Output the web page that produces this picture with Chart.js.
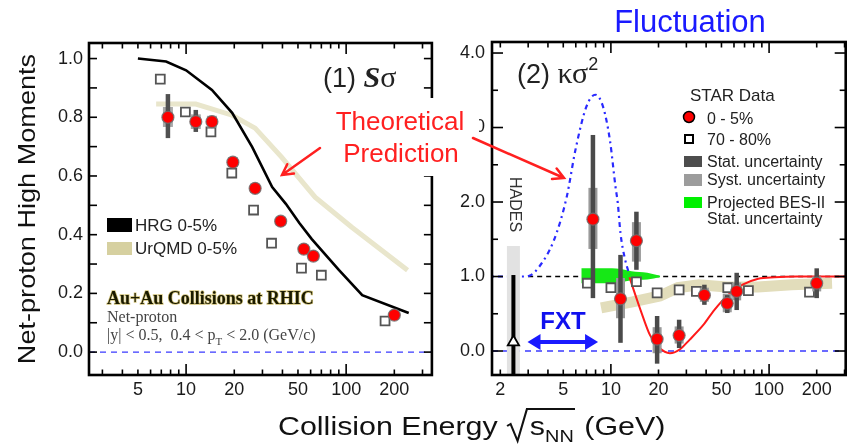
<!DOCTYPE html>
<html><head><meta charset="utf-8">
<script src="https://cdn.jsdelivr.net/npm/chart.js@4.4.0/dist/chart.umd.min.js"></script>
<style>
html,body{margin:0;padding:0;background:#fff;}
#wrap{position:relative;width:854px;height:447px;overflow:hidden;background:#fff;}
canvas{position:absolute;top:0;}
#c1{left:0;width:440px;height:447px;}
#c2{left:440px;width:414px;height:447px;}
#ov{position:absolute;left:0;top:0;}
</style></head><body>
<div id="wrap">
<canvas id="c1" width="440" height="447"></canvas>
<canvas id="c2" width="414" height="447"></canvas>
<svg id="ov" width="854" height="447" xmlns="http://www.w3.org/2000/svg" font-family="Liberation Sans, Arial, sans-serif">
  <!-- axis titles -->
  <text transform="translate(35,209) rotate(-90) scale(1.13,1)" text-anchor="middle" font-size="24" fill="#111">Net-proton High Moments</text>
  <g id="xt" transform="translate(278,435) scale(1.17,1)" fill="#111"></g>
  <text x="690" y="32" font-size="31" fill="#1a1aff" text-anchor="middle">Fluctuation</text>
  <!-- panel labels -->
  <text x="323" y="87" font-size="27" fill="#222">(1) <tspan font-family="Liberation Serif" font-style="italic" font-weight="bold" font-size="30">S</tspan><tspan font-family="Liberation Serif" font-size="30">σ</tspan></text>
  <text x="517" y="83" font-size="27" fill="#222">(2) <tspan font-family="Liberation Serif" font-size="30">κσ</tspan><tspan font-size="18" dy="-13">2</tspan></text>
  <!-- left legend -->
  <rect x="107" y="218" width="25" height="14" fill="#000"/>
  <text x="135" y="231" font-size="17" fill="#222">HRG 0-5%</text>
  <rect x="107" y="242" width="25" height="13" fill="#d6d0a0"/>
  <text x="135" y="254" font-size="17" fill="#222">UrQMD 0-5%</text>
  <text x="107" y="304" font-size="18" font-weight="bold" font-family="Liberation Serif" fill="#1a1a00" stroke="#d2c37a" stroke-width="1.4" paint-order="stroke">Au+Au Collisions at RHIC</text>
  <text x="107" y="322" font-size="16" font-family="Liberation Serif" fill="#444">Net-proton</text>
  <text x="107" y="340" font-size="16" font-family="Liberation Serif" fill="#444" xml:space="preserve">|y| &lt; 0.5,  0.4 &lt; p<tspan font-size="11" dy="5">T</tspan><tspan dy="-5"> &lt; 2.0 (GeV/c)</tspan></text>
  <!-- right legend -->
  <text x="690" y="101" font-size="17" fill="#222">STAR Data</text>
  <circle cx="689" cy="117" r="5.5" fill="#ff0000" stroke="#000" stroke-width="1.5"/>
  <text x="707" y="124" font-size="16" fill="#222">0 - 5%</text>
  <rect x="685" y="135" width="8" height="8" fill="#fff" stroke="#000" stroke-width="2"/>
  <text x="707" y="145" font-size="16" fill="#222">70 - 80%</text>
  <rect x="684" y="156" width="18" height="11" fill="#4d4d4d"/>
  <text x="707" y="167" font-size="16" fill="#222">Stat. uncertainty</text>
  <rect x="684" y="174" width="18" height="12" fill="#9c9c9c"/>
  <text x="707" y="185" font-size="16" fill="#222">Syst. uncertainty</text>
  <rect x="684" y="197" width="18" height="11" fill="#00f000"/>
  <text x="707" y="208" font-size="16" fill="#222">Projected BES-II</text>
  <text x="707" y="224" font-size="16" fill="#222">Stat. uncertainty</text>
  <!-- HADES / FXT -->
  <text transform="translate(510,177) rotate(90)" font-size="16" fill="#333">HADES</text>
  <text x="563" y="329" font-size="24" font-weight="bold" fill="#1010ee" text-anchor="middle">FXT</text>
  <!-- theoretical prediction -->
  <rect x="325" y="98" width="154" height="78" fill="#fff"/>
  <text x="400" y="130" font-size="26" fill="#ff2020" text-anchor="middle">Theoretical</text>
  <text x="401" y="162" font-size="26" fill="#ff2020" text-anchor="middle">Prediction</text>
  <g id="arrows" stroke="#ff2020" stroke-width="2.5" fill="none" stroke-linecap="round"></g>
</svg>
</div>
<script>
// ================= DATA =================
// Panel (1): S*sigma, net-proton, Au+Au
const energies = [7.7, 11.5, 14.5, 19.6, 27, 39, 54.4, 62.4, 200];
const ssig_0_5 = [0.800, 0.785, 0.785, 0.647, 0.558, 0.446, 0.351, 0.327, 0.126];
const ssig_statLo = [0.729, 0.750, 0.767, 0.634, 0.547, 0.436, 0.341, 0.317, 0.118];
const ssig_statHi = [0.879, 0.825, 0.805, 0.660, 0.569, 0.456, 0.361, 0.337, 0.134];
const ssig_systLo = [0.767, 0.760, 0.765, 0.630, 0.542, 0.431, 0.336, 0.312, 0.114];
const ssig_systHi = [0.835, 0.810, 0.805, 0.664, 0.574, 0.461, 0.366, 0.342, 0.138];
const ssig_70_80_energy = [6.9, 9.9, 14.3, 19.3, 26.4, 34.2, 52.6, 70, 175];
const ssig_70_80 = [0.930, 0.818, 0.750, 0.610, 0.484, 0.371, 0.286, 0.262, 0.106];
const hrg_energy = [5, 7.5, 10, 14.5, 19.4, 25.9, 34.5, 42, 51, 61, 90, 126, 246];
const hrg_ssig = [1.0, 0.99, 0.96, 0.893, 0.815, 0.698, 0.562, 0.505, 0.44, 0.385, 0.28, 0.194, 0.133];
const urqmd_energy = [6.5, 11.5, 19.4, 27, 39.5, 64, 108, 242];
const urqmd_ssig = [0.845, 0.845, 0.807, 0.763, 0.664, 0.528, 0.426, 0.279];

// Panel (2): kappa*sigma^2
const kap_0_5 = [1.77, 0.70, 1.48, 0.16, 0.21, 0.75, 0.64, 0.80, 0.91];
const kap_statLo = [0.71, 0.11, 1.09, -0.17, 0.04, 0.62, 0.51, 0.55, 0.71];
const kap_statHi = [2.90, 1.29, 1.87, 0.47, 0.42, 0.89, 0.75, 1.05, 1.11];
const kap_systLo = [1.37, 0.44, 1.20, -0.03, 0.10, 0.66, 0.52, 0.68, 0.80];
const kap_systHi = [2.19, 0.98, 1.73, 0.32, 0.33, 0.85, 0.77, 0.92, 1.00];
const kap_70_80_energy = [7.1, 10, 14.5, 19.6, 27, 34.7, 54.8, 74, 180];
const kap_70_80 = [0.91, 0.85, 0.93, 0.78, 0.82, 0.80, 0.85, 0.81, 0.79];
const hades_energy = [2.42];
const hades_kap = [0.12];
const hades_statLo = [-0.6], hades_statHi = [1.02];
const hades_systLo = [-0.6], hades_systHi = [1.41];
const model_energy = [1.77, 2.76, 3.05, 3.52, 4.37, 5.26, 5.97, 7.0, 7.96, 8.92, 9.86, 10.7, 11.05, 11.5, 12.2, 13.1];
const model_kap = [1.0, 1.0, 1.01, 1.13, 1.49, 2.07, 2.70, 3.28, 3.44, 3.28, 2.83, 2.20, 1.99, 1.58, 1.26, 1.02];
const fit_energy = [13.1, 15.4, 17.7, 20.1, 23.6, 27.2, 31.4, 38.4, 45, 54.8, 68, 85.4, 108, 150, 305];
const fit_kap = [0.99, 0.55, 0.21, 0.05, -0.03, 0.02, 0.15, 0.35, 0.55, 0.75, 0.89, 0.97, 0.99, 1.0, 1.0];
const urqmd_kap_energy = [8.67, 13.7, 20.4, 26.5, 36, 54, 85, 139, 250];
const urqmd_kap = [0.58, 0.66, 0.74, 0.85, 0.89, 0.86, 0.86, 0.89, 0.91];
const bes2_energy = [6.5, 9, 11.5, 13.5, 17, 20.5];
const bes2_hi = [1.11, 1.11, 1.10, 1.07, 1.05, 1.01];
const bes2_lo = [0.91, 0.91, 0.92, 0.95, 0.96, 0.99];
const unity_energy = [3.0, 305];
const unity_val = [1, 1];

// axis ranges and tick labels
const xRange1 = [2.474, 343.4], yRange1 = [-0.078, 1.053];
const xRange2 = [1.772, 305], yRange2 = [-0.322, 4.148];
const xTicks1 = [5, 10, 20, 50, 100, 200];
const xTicks2 = [2, 5, 10, 20, 50, 100, 200];
const yTicks1 = [0, 0.2, 0.4, 0.6, 0.8, 1.0];
const yTicks2 = [0, 1, 2, 3, 4];

// ================= HELPERS =================
const FONT = 'Liberation Sans';
function pts(xs, ys) { return xs.map((x, i) => ({x, y: ys[i]})); }

function framePlugin(o) {
  return {
    id: 'frame',
    afterDatasetsDraw(chart) {
      const {ctx, chartArea: a, scales: {x, y}} = chart;
      ctx.save();
      ctx.strokeStyle = '#000';
      ctx.lineWidth = 1.6;
      const ln = (x0, y0, x1, y1) => { ctx.beginPath(); ctx.moveTo(x0, y0); ctx.lineTo(x1, y1); ctx.stroke(); };
      for (let d = Math.floor(Math.log10(x.min)); d <= Math.ceil(Math.log10(x.max)); d++) {
        for (let m = 1; m <= 9; m++) {
          const v = m * Math.pow(10, d);
          if (v < x.min || v > x.max) continue;
          const px = x.getPixelForValue(v);
          const len = m === 1 ? o.xMajor : o.xMinor;
          ln(px, a.bottom, px, a.bottom - len);
          ln(px, a.top, px, a.top + len);
        }
      }
      const n = Math.round((o.yEnd - o.yStart) / o.yStep);
      for (let i = 0; i <= n; i++) {
        const v = o.yStart + i * o.yStep;
        const py = y.getPixelForValue(v);
        const major = Math.abs(v / o.yMajorStep - Math.round(v / o.yMajorStep)) < 1e-6;
        const len = major ? o.yMajor : o.yMinor;
        ln(a.left, py, a.left + len, py);
        ln(a.right, py, a.right - len, py);
      }
      ctx.lineWidth = 2.6;
      ctx.strokeRect(a.left, a.top, a.right - a.left, a.bottom - a.top);
      if (o.fxt) {
        const f = o.fxt;
        const x0 = x.getPixelForValue(f.x0), x1 = x.getPixelForValue(f.x1), py = y.getPixelForValue(f.y);
        ctx.strokeStyle = f.color; ctx.fillStyle = f.color; ctx.lineWidth = 4;
        ln(x0 + 10, py, x1 - 10, py);
        ctx.beginPath(); ctx.moveTo(x0, py); ctx.lineTo(x0 + 13, py - 8); ctx.lineTo(x0 + 13, py + 8); ctx.closePath(); ctx.fill();
        ctx.beginPath(); ctx.moveTo(x1, py); ctx.lineTo(x1 - 13, py - 8); ctx.lineTo(x1 - 13, py + 8); ctx.closePath(); ctx.fill();
      }
      ctx.restore();
    }
  };
}

// byIndex: {datasetIndex: [error-bar sets]} drawn just before that dataset
function errPlugin(byIndex) {
  return {
    id: 'errbars',
    beforeDatasetDraw(chart, args) {
      const sets = byIndex[args.index];
      if (!sets) return;
      const {ctx, chartArea: a, scales: {x, y}} = chart;
      ctx.save();
      ctx.beginPath(); ctx.rect(a.left, a.top, a.right - a.left, a.bottom - a.top); ctx.clip();
      for (const s of sets) {
        s.x.forEach((xv, i) => {
          const px = x.getPixelForValue(xv);
          if (s.systLo) {
            const t = y.getPixelForValue(s.systHi[i]), b = y.getPixelForValue(s.systLo[i]);
            ctx.fillStyle = s.systColor; ctx.fillRect(px - s.systW / 2, t, s.systW, b - t);
          }
          if (s.statLo) {
            const t = y.getPixelForValue(s.statHi[i]), b = y.getPixelForValue(s.statLo[i]);
            ctx.fillStyle = s.statColor; ctx.fillRect(px - s.statW / 2, t, s.statW, b - t);
          }
        });
      }
      ctx.restore();
    }
  };
}

function axes(xr, yr, xt, yt, yWidth, yPad, yDigits) {
  return {
    x: {
      type: 'logarithmic', min: xr[0], max: xr[1], bounds: 'data',
      grid: {display: false, drawTicks: false, tickLength: 0}, border: {display: false},
      afterBuildTicks: s => { s.ticks = xt.map(v => ({value: v})); },
      afterFit: s => { s.height = 72; },
      ticks: {callback: v => String(v), autoSkip: false, maxRotation: 0, minRotation: 0, padding: 4,
              font: {family: FONT, size: 18}, color: '#1a1a1a'}
    },
    y: {
      type: 'linear', min: yr[0], max: yr[1],
      grid: {display: false, drawTicks: false, tickLength: 0}, border: {display: false},
      afterBuildTicks: s => { s.ticks = yt.map(v => ({value: v})); },
      afterFit: s => { s.width = yWidth; },
      ticks: {callback: v => Number(v).toFixed(yDigits), autoSkip: false, padding: yPad,
              font: {family: FONT, size: 18}, color: '#1a1a1a'}
    }
  };
}

const baseOpts = {animation: false, responsive: false, devicePixelRatio: 1,
  plugins: {legend: {display: false}, tooltip: {enabled: false}},
  elements: {line: {tension: 0}}};

// ================= PANEL 1 =================
new Chart(document.getElementById('c1'), {
  type: 'scatter',
  data: {datasets: [
    {data: pts(energies, ssig_0_5), pointRadius: 6, pointBackgroundColor: '#ff0000',
     pointBorderColor: 'rgba(110,110,110,0.85)', pointBorderWidth: 1.2, order: 0},
    {data: pts(ssig_70_80_energy, ssig_70_80), pointStyle: 'rect', pointRadius: 6.3, pointBackgroundColor: '#fff',
     pointBorderColor: '#555', pointBorderWidth: 1.8, order: 1},
    {data: pts(hrg_energy, hrg_ssig), showLine: true, borderColor: '#000', borderWidth: 2.6, pointRadius: 0, order: 2},
    {data: pts(urqmd_energy, urqmd_ssig), showLine: true, borderColor: '#e9e6cc', borderWidth: 5, pointRadius: 0, order: 3},
    {data: pts(xRange1, [0, 0]), showLine: true, borderColor: '#3a3aff', borderWidth: 1.4, borderDash: [6, 5], pointRadius: 0, order: 4}
  ]},
  options: Object.assign({}, baseOpts, {
    layout: {padding: {top: 43, right: 6, left: 0, bottom: 0}},
    scales: axes(xRange1, yRange1, xTicks1, yTicks1, 89, 6, 1)
  }),
  plugins: [
    errPlugin({0: [{x: energies, statLo: ssig_statLo, statHi: ssig_statHi, systLo: ssig_systLo, systHi: ssig_systHi,
                statColor: '#505050', statW: 4.5, systColor: '#a8a8a8', systW: 10}]}),
    framePlugin({xMajor: 11, xMinor: 5.5, yStart: 0, yEnd: 1.0, yStep: 0.1, yMajorStep: 0.2, yMajor: 8, yMinor: 8})
  ]
});

// ================= PANEL 2 =================
new Chart(document.getElementById('c2'), {
  type: 'scatter',
  data: {datasets: [
    {data: pts(energies, kap_0_5), pointRadius: 6, pointBackgroundColor: '#ff0000',
     pointBorderColor: 'rgba(110,110,110,0.85)', pointBorderWidth: 1.2, order: 0},
    {data: pts(hades_energy, hades_kap), pointStyle: 'triangle', pointRadius: 6.5, pointBackgroundColor: '#fff',
     pointBorderColor: '#000', pointBorderWidth: 1.8, order: 1},
    {data: pts(kap_70_80_energy, kap_70_80), pointStyle: 'rect', pointRadius: 6.3, pointBackgroundColor: '#fff',
     pointBorderColor: '#555', pointBorderWidth: 1.8, order: 2},
    {data: pts(fit_energy, fit_kap), showLine: true, borderColor: '#ff1a1a', borderWidth: 2, pointRadius: 0,
     cubicInterpolationMode: 'monotone', order: 3},
    {data: pts(model_energy, model_kap), showLine: true, borderColor: '#2a2aff', borderWidth: 2.2, borderDash: [2, 4, 5, 4],
     pointRadius: 0, cubicInterpolationMode: 'monotone', order: 4},
    {data: pts(bes2_energy, bes2_hi), showLine: true, borderWidth: 0, borderColor: 'rgba(0,0,0,0)', pointRadius: 0,
     backgroundColor: '#16e816', fill: '+1', cubicInterpolationMode: 'monotone', order: 5},
    {data: pts(bes2_energy, bes2_lo), showLine: true, borderWidth: 0, borderColor: 'rgba(0,0,0,0)', pointRadius: 0,
     cubicInterpolationMode: 'monotone', order: 6},
    {data: pts(urqmd_kap_energy, urqmd_kap), showLine: true, borderColor: '#e2ddbb', borderWidth: 11, pointRadius: 0, order: 7},
    {data: pts(unity_energy, unity_val), showLine: true, borderColor: '#000', borderWidth: 1.5, borderDash: [5, 4], pointRadius: 0, order: 8},
    {data: pts(xRange2, [0, 0]), showLine: true, borderColor: '#3a3aff', borderWidth: 1.4, borderDash: [6, 5], pointRadius: 0, order: 9}
  ]},
  options: Object.assign({}, baseOpts, {
    layout: {padding: {top: 42, right: 2, left: 0, bottom: 0}},
    scales: axes(xRange2, yRange2, xTicks2, yTicks2, 52, 7, 1)
  }),
  plugins: [
    errPlugin({
      1: [{x: hades_energy, statLo: hades_statLo, statHi: hades_statHi, systLo: hades_systLo, systHi: hades_systHi,
           statColor: '#000', statW: 4, systColor: '#e2e2e2', systW: 13}],
      0: [{x: energies, statLo: kap_statLo, statHi: kap_statHi, systLo: kap_systLo, systHi: kap_systHi,
           statColor: '#4a4a4a', statW: 4.5, systColor: '#9a9a9a', systW: 9}]}),
    framePlugin({xMajor: 11, xMinor: 5.5, yStart: 0, yEnd: 4, yStep: 0.5, yMajorStep: 1, yMajor: 11, yMinor: 6,
                 fxt: {x0: 2.97, x1: 8.3, y: 0.12, color: '#1a1aff'}})
  ]
});

// ================= OVERLAY TEXT / ARROWS =================
(function () {
  const ns = 'http://www.w3.org/2000/svg';
  const g = document.getElementById('xt');
  function t(str, x, y, size) {
    const e = document.createElementNS(ns, 'text');
    e.setAttribute('x', x); e.setAttribute('y', y); e.setAttribute('font-size', size);
    e.textContent = str; g.appendChild(e); return e.getComputedTextLength();
  }
  let x = 0;
  x += t('Collision Energy', x, 0, 26);
  const r0 = x + 8;
  x = r0 + 19.5;
  x += t('s', x, 0, 26);
  x += t('NN', x, 7, 17);
  const oe = x + 1;
  const p = document.createElementNS(ns, 'path');
  p.setAttribute('d', `M${r0},-9 L${r0 + 3},-11 L${r0 + 9},6 L${r0 + 17},-26 L${oe},-26`);
  p.setAttribute('fill', 'none'); p.setAttribute('stroke', '#111'); p.setAttribute('stroke-width', '1.8');
  g.appendChild(p);
  x += 9;
  t('(GeV)', x, 0, 26);

  const ag = document.getElementById('arrows');
  function arrow(x0, y0, x1, y1) {
    const dx = x1 - x0, dy = y1 - y0, L = Math.hypot(dx, dy), ux = dx / L, uy = dy / L;
    const h = 12, c = Math.cos(0.5), s = Math.sin(0.5);
    const ax = x1 - h * (ux * c - uy * s), ay = y1 - h * (ux * s + uy * c);
    const bx = x1 - h * (ux * c + uy * s), by = y1 - h * (-ux * s + uy * c);
    const e = document.createElementNS(ns, 'path');
    e.setAttribute('d', `M${x0},${y0} L${x1},${y1} M${ax},${ay} L${x1},${y1} L${bx},${by}`);
    ag.appendChild(e);
  }
  arrow(320, 148, 282, 175);
  arrow(473, 138, 564, 178);
})();
</script>
</body></html>
